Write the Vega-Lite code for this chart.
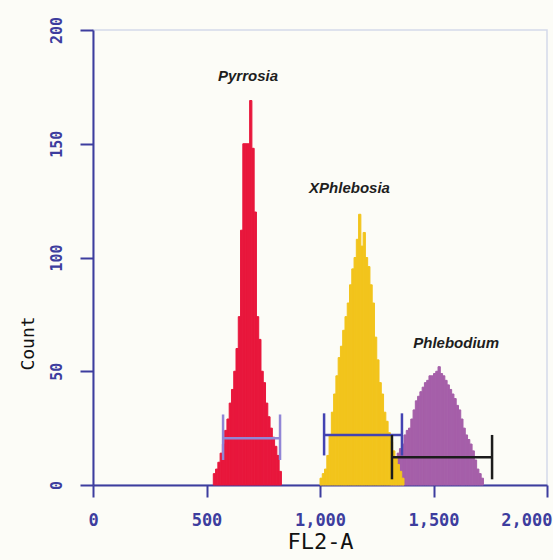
{
  "$schema": "https://vega.github.io/schema/vega-lite/v6.json",
  "autosize": {"type": "none"},
  "padding": {"left": 93, "top": 30, "right": 6, "bottom": 75},
  "width": 454,
  "height": 455,
  "background": "#fcfcf7",
  "config": {
    "view": {"stroke": "#d3d9ea", "strokeWidth": 1.5},
    "axis": {"grid": false}
  },
  "datasets": {
    "hist": [
      {"s": "Pyrrosia", "x0": 530, "x1": 540, "c": 5},
      {"s": "Pyrrosia", "x0": 540, "x1": 550, "c": 7},
      {"s": "Pyrrosia", "x0": 550, "x1": 560, "c": 10},
      {"s": "Pyrrosia", "x0": 560, "x1": 570, "c": 14},
      {"s": "Pyrrosia", "x0": 570, "x1": 580, "c": 18},
      {"s": "Pyrrosia", "x0": 580, "x1": 590, "c": 24},
      {"s": "Pyrrosia", "x0": 590, "x1": 600, "c": 29},
      {"s": "Pyrrosia", "x0": 600, "x1": 610, "c": 36},
      {"s": "Pyrrosia", "x0": 610, "x1": 620, "c": 42},
      {"s": "Pyrrosia", "x0": 620, "x1": 630, "c": 50},
      {"s": "Pyrrosia", "x0": 630, "x1": 640, "c": 60},
      {"s": "Pyrrosia", "x0": 640, "x1": 650, "c": 74},
      {"s": "Pyrrosia", "x0": 650, "x1": 660, "c": 112},
      {"s": "Pyrrosia", "x0": 660, "x1": 670, "c": 150},
      {"s": "Pyrrosia", "x0": 670, "x1": 680, "c": 150},
      {"s": "Pyrrosia", "x0": 680, "x1": 690, "c": 150},
      {"s": "Pyrrosia", "x0": 690, "x1": 700, "c": 169},
      {"s": "Pyrrosia", "x0": 700, "x1": 710, "c": 148},
      {"s": "Pyrrosia", "x0": 710, "x1": 720, "c": 120},
      {"s": "Pyrrosia", "x0": 720, "x1": 730, "c": 74},
      {"s": "Pyrrosia", "x0": 730, "x1": 740, "c": 64},
      {"s": "Pyrrosia", "x0": 740, "x1": 750, "c": 50},
      {"s": "Pyrrosia", "x0": 750, "x1": 760, "c": 45},
      {"s": "Pyrrosia", "x0": 760, "x1": 770, "c": 36},
      {"s": "Pyrrosia", "x0": 770, "x1": 780, "c": 30},
      {"s": "Pyrrosia", "x0": 780, "x1": 790, "c": 25},
      {"s": "Pyrrosia", "x0": 790, "x1": 800, "c": 21},
      {"s": "Pyrrosia", "x0": 800, "x1": 810, "c": 17},
      {"s": "Pyrrosia", "x0": 810, "x1": 820, "c": 13},
      {"s": "Pyrrosia", "x0": 820, "x1": 830, "c": 6},
      {"s": "Phlebodium", "x0": 1310, "x1": 1320, "c": 3},
      {"s": "Phlebodium", "x0": 1320, "x1": 1330, "c": 6},
      {"s": "Phlebodium", "x0": 1330, "x1": 1340, "c": 10},
      {"s": "Phlebodium", "x0": 1340, "x1": 1350, "c": 14},
      {"s": "Phlebodium", "x0": 1350, "x1": 1360, "c": 16},
      {"s": "Phlebodium", "x0": 1360, "x1": 1370, "c": 18},
      {"s": "Phlebodium", "x0": 1370, "x1": 1380, "c": 22},
      {"s": "Phlebodium", "x0": 1380, "x1": 1390, "c": 24},
      {"s": "Phlebodium", "x0": 1390, "x1": 1400, "c": 25},
      {"s": "Phlebodium", "x0": 1400, "x1": 1410, "c": 29},
      {"s": "Phlebodium", "x0": 1410, "x1": 1420, "c": 33},
      {"s": "Phlebodium", "x0": 1420, "x1": 1430, "c": 37},
      {"s": "Phlebodium", "x0": 1430, "x1": 1440, "c": 39},
      {"s": "Phlebodium", "x0": 1440, "x1": 1450, "c": 41},
      {"s": "Phlebodium", "x0": 1450, "x1": 1460, "c": 43},
      {"s": "Phlebodium", "x0": 1460, "x1": 1470, "c": 45},
      {"s": "Phlebodium", "x0": 1470, "x1": 1480, "c": 46},
      {"s": "Phlebodium", "x0": 1480, "x1": 1490, "c": 48},
      {"s": "Phlebodium", "x0": 1490, "x1": 1500, "c": 48},
      {"s": "Phlebodium", "x0": 1500, "x1": 1510, "c": 49},
      {"s": "Phlebodium", "x0": 1510, "x1": 1520, "c": 50},
      {"s": "Phlebodium", "x0": 1520, "x1": 1530, "c": 52},
      {"s": "Phlebodium", "x0": 1530, "x1": 1540, "c": 49},
      {"s": "Phlebodium", "x0": 1540, "x1": 1550, "c": 48},
      {"s": "Phlebodium", "x0": 1550, "x1": 1560, "c": 46},
      {"s": "Phlebodium", "x0": 1560, "x1": 1570, "c": 44},
      {"s": "Phlebodium", "x0": 1570, "x1": 1580, "c": 42},
      {"s": "Phlebodium", "x0": 1580, "x1": 1590, "c": 40},
      {"s": "Phlebodium", "x0": 1590, "x1": 1600, "c": 38},
      {"s": "Phlebodium", "x0": 1600, "x1": 1610, "c": 35},
      {"s": "Phlebodium", "x0": 1610, "x1": 1620, "c": 33},
      {"s": "Phlebodium", "x0": 1620, "x1": 1630, "c": 29},
      {"s": "Phlebodium", "x0": 1630, "x1": 1640, "c": 25},
      {"s": "Phlebodium", "x0": 1640, "x1": 1650, "c": 22},
      {"s": "Phlebodium", "x0": 1650, "x1": 1660, "c": 20},
      {"s": "Phlebodium", "x0": 1660, "x1": 1670, "c": 18},
      {"s": "Phlebodium", "x0": 1670, "x1": 1680, "c": 15},
      {"s": "Phlebodium", "x0": 1680, "x1": 1690, "c": 11},
      {"s": "Phlebodium", "x0": 1690, "x1": 1700, "c": 7},
      {"s": "Phlebodium", "x0": 1700, "x1": 1710, "c": 5},
      {"s": "Phlebodium", "x0": 1710, "x1": 1720, "c": 3},
      {"s": "XPhlebosia", "x0": 1000, "x1": 1010, "c": 3},
      {"s": "XPhlebosia", "x0": 1010, "x1": 1020, "c": 5},
      {"s": "XPhlebosia", "x0": 1020, "x1": 1030, "c": 7},
      {"s": "XPhlebosia", "x0": 1030, "x1": 1040, "c": 13},
      {"s": "XPhlebosia", "x0": 1040, "x1": 1050, "c": 22},
      {"s": "XPhlebosia", "x0": 1050, "x1": 1060, "c": 32},
      {"s": "XPhlebosia", "x0": 1060, "x1": 1070, "c": 40},
      {"s": "XPhlebosia", "x0": 1070, "x1": 1080, "c": 48},
      {"s": "XPhlebosia", "x0": 1080, "x1": 1090, "c": 56},
      {"s": "XPhlebosia", "x0": 1090, "x1": 1100, "c": 61},
      {"s": "XPhlebosia", "x0": 1100, "x1": 1110, "c": 68},
      {"s": "XPhlebosia", "x0": 1110, "x1": 1120, "c": 74},
      {"s": "XPhlebosia", "x0": 1120, "x1": 1130, "c": 80},
      {"s": "XPhlebosia", "x0": 1130, "x1": 1140, "c": 88},
      {"s": "XPhlebosia", "x0": 1140, "x1": 1150, "c": 95},
      {"s": "XPhlebosia", "x0": 1150, "x1": 1160, "c": 100},
      {"s": "XPhlebosia", "x0": 1160, "x1": 1170, "c": 108},
      {"s": "XPhlebosia", "x0": 1170, "x1": 1180, "c": 119},
      {"s": "XPhlebosia", "x0": 1180, "x1": 1190, "c": 105},
      {"s": "XPhlebosia", "x0": 1190, "x1": 1200, "c": 111},
      {"s": "XPhlebosia", "x0": 1200, "x1": 1210, "c": 100},
      {"s": "XPhlebosia", "x0": 1210, "x1": 1220, "c": 96},
      {"s": "XPhlebosia", "x0": 1220, "x1": 1230, "c": 88},
      {"s": "XPhlebosia", "x0": 1230, "x1": 1240, "c": 80},
      {"s": "XPhlebosia", "x0": 1240, "x1": 1250, "c": 65},
      {"s": "XPhlebosia", "x0": 1250, "x1": 1260, "c": 55},
      {"s": "XPhlebosia", "x0": 1260, "x1": 1270, "c": 45},
      {"s": "XPhlebosia", "x0": 1270, "x1": 1280, "c": 40},
      {"s": "XPhlebosia", "x0": 1280, "x1": 1290, "c": 32},
      {"s": "XPhlebosia", "x0": 1290, "x1": 1300, "c": 28},
      {"s": "XPhlebosia", "x0": 1300, "x1": 1310, "c": 23},
      {"s": "XPhlebosia", "x0": 1310, "x1": 1320, "c": 19},
      {"s": "XPhlebosia", "x0": 1320, "x1": 1330, "c": 15},
      {"s": "XPhlebosia", "x0": 1330, "x1": 1340, "c": 12},
      {"s": "XPhlebosia", "x0": 1340, "x1": 1350, "c": 9},
      {"s": "XPhlebosia", "x0": 1350, "x1": 1360, "c": 6},
      {"s": "XPhlebosia", "x0": 1360, "x1": 1370, "c": 3}
    ],
    "gates": [
      {"g": "gate Pyrrosia", "lo": 573, "hi": 824, "y": 20.5, "ylo": 11, "yhi": 31},
      {"g": "gate XPhlebosia", "lo": 1018, "hi": 1361, "y": 22, "ylo": 13, "yhi": 31.5},
      {"g": "gate Phlebodium", "lo": 1317, "hi": 1758, "y": 12.2, "ylo": 2.5, "yhi": 22}
    ],
    "labels": [
      {"t": "Pyrrosia", "x": 683, "y": 180},
      {"t": "XPhlebosia", "x": 1130, "y": 130.5},
      {"t": "Phlebodium", "x": 1600, "y": 62.4}
    ]
  },
  "layer": [
    {
      "data": {"name": "hist"},
      "mark": {"type": "bar", "strokeWidth": 1},
      "encoding": {
        "x": {
          "field": "x0", "type": "quantitative",
          "scale": {"domain": [0, 2000], "nice": false},
          "axis": {
            "values": [0, 500, 1000, 1500, 2000],
            "format": ",d",
            "title": "FL2-A",
            "domainColor": "#3d3d9e", "domainWidth": 2,
            "tickColor": "#3d3d9e", "tickWidth": 2, "tickSize": 12,
            "labelColor": "#3d3d9e", "labelFont": "DejaVu Sans Mono", "labelFontSize": 17, "labelFontWeight": "bold",
            "labelAlign": {"condition": {"test": "datum.value == 2000", "value": "right"}, "value": "center"},
            "labelOffset": {"condition": {"test": "datum.value == 2000", "value": 5}, "value": 0},
            "labelPadding": 15, "labelFlush": false, "labelOverlap": false,
            "titleColor": "#111111", "titleFont": "DejaVu Sans Mono", "titleFontSize": 22,
            "titleFontWeight": "normal", "titlePadding": 3
          }
        },
        "x2": {"field": "x1"},
        "y": {
          "field": "c", "type": "quantitative",
          "scale": {"domain": [0, 200], "nice": false},
          "axis": {
            "values": [0, 50, 100, 150, 200],
            "title": "Count",
            "domainColor": "#3d3d9e", "domainWidth": 2,
            "tickColor": "#3d3d9e", "tickWidth": 2, "tickSize": 13,
            "labelColor": "#3d3d9e", "labelFont": "DejaVu Sans Mono", "labelFontSize": 15, "labelFontWeight": "bold",
            "labelAngle": -90, "labelPadding": 16, "labelFlush": false, "labelOverlap": false,
            "titleColor": "#111111", "titleFont": "DejaVu Sans Mono", "titleFontSize": 18,
            "titleFontWeight": "normal", "titleY": 313, "titleX": -65, "titleAngle": -90, "titleAlign": "center", "titleBaseline": "middle"
          }
        },
        "y2": {"datum": 0},
        "color": {
          "field": "s", "type": "nominal", "legend": null,
          "scale": {
            "domain": ["Pyrrosia", "XPhlebosia", "Phlebodium", "gate Pyrrosia", "gate XPhlebosia", "gate Phlebodium"],
            "range": ["#e8173c", "#f2c41c", "#a55fa9", "#9186d6", "#4343b2", "#1c1c1c"]
          }
        },
        "stroke": {
          "field": "s", "type": "nominal", "legend": null,
          "scale": {
            "domain": ["Pyrrosia", "XPhlebosia", "Phlebodium", "gate Pyrrosia", "gate XPhlebosia", "gate Phlebodium"],
            "range": ["#e8173c", "#f2c41c", "#a55fa9", "#9186d6", "#4343b2", "#1c1c1c"]
          }
        }
      }
    },
    {
      "data": {"name": "gates"},
      "mark": {"type": "rule", "strokeWidth": 2.5},
      "encoding": {
        "x": {"field": "lo", "type": "quantitative"},
        "x2": {"field": "hi"},
        "y": {"field": "y", "type": "quantitative"},
        "color": {"field": "g", "type": "nominal", "legend": null}
      }
    },
    {
      "data": {"name": "gates"},
      "mark": {"type": "rule", "strokeWidth": 2.5},
      "encoding": {
        "x": {"field": "lo", "type": "quantitative"},
        "y": {"field": "ylo", "type": "quantitative"},
        "y2": {"field": "yhi"},
        "color": {"field": "g", "type": "nominal", "legend": null}
      }
    },
    {
      "data": {"name": "gates"},
      "mark": {"type": "rule", "strokeWidth": 2.5},
      "encoding": {
        "x": {"field": "hi", "type": "quantitative"},
        "y": {"field": "ylo", "type": "quantitative"},
        "y2": {"field": "yhi"},
        "color": {"field": "g", "type": "nominal", "legend": null}
      }
    },
    {
      "data": {"name": "labels"},
      "mark": {"type": "text", "font": "Liberation Sans", "fontStyle": "italic", "fontWeight": "bold", "fontSize": 15, "color": "#1e1e1e", "align": "center", "baseline": "middle"},
      "encoding": {
        "x": {"field": "x", "type": "quantitative"},
        "y": {"field": "y", "type": "quantitative"},
        "text": {"field": "t"}
      }
    }
  ]
}
